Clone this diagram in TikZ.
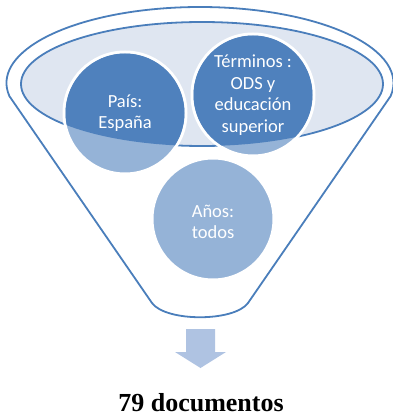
\documentclass[tikz,border=0pt]{standalone}
\usepackage{fontspec}
\setmainfont{Liberation Serif}
\newfontfamily\calibri{Carlito}
\definecolor{rimblue}{HTML}{4A7EBB}
\definecolor{rimfill}{HTML}{DFE6F1}
\definecolor{darkball}{HTML}{4F81BD}
\definecolor{lightball}{HTML}{95B3D7}
\definecolor{arrowblue}{HTML}{AFC3E2}
\begin{document}
\begin{tikzpicture}[x=1pt,y=-1pt,
        rim/.style={draw=rimblue,line width=1.8pt},
        ball/.style={circle,fill=lightball,draw=white,line width=3pt,
          inner sep=0pt,minimum size=122pt},
        balltext/.style={text=white,align=center,
          font=\calibri\fontsize{18.5}{21.5}\selectfont}]
      \useasboundingbox (0,0) rectangle (392,417);
      % funnel body
      \draw[rim] (200,83) ++(170:193.5 and 76)
        arc[start angle=170,end angle=370,x radius=193.5,y radius=76]
        -- (248,303) .. controls (234,322) and (166,322) .. (152,303) -- cycle;
      \draw[rim,fill=rimfill] (202,84) ellipse[x radius=181,y radius=62];
      % filters
      \node (pais) at (125,113) [ball] {};
      \node (terminos) at (253,95) [ball] {};
      \node (anos) at (213,219) [ball] {};
      \begin{scope}
        \clip (202,84) ellipse[x radius=181,y radius=62];
        \fill[darkball] (pais.center) circle[radius=59.5];
        \fill[darkball] (terminos.center) circle[radius=59.5];
      \end{scope}
      \node (paisText) at (pais.center) [balltext] {País:\\España};
      \node (terminosText) at (terminos.center) [balltext] {Términos :\\ODS y\\educación\\superior};
      \node (anosText) at (213,222) [balltext] {Años:\\todos};
      % result
      \coordinate (tip) at (200.5,368);
      \fill[arrowblue] (186,329) -- (215,329) -- (215,352) -- (226,352)
        -- (tip) -- (175,352) -- (186,352) -- cycle;
      \node (total) at (201,411) [anchor=base,inner sep=1pt,
        font=\bfseries\fontsize{26}{30}\selectfont] {79 documentos};
\end{tikzpicture}
\end{document}
